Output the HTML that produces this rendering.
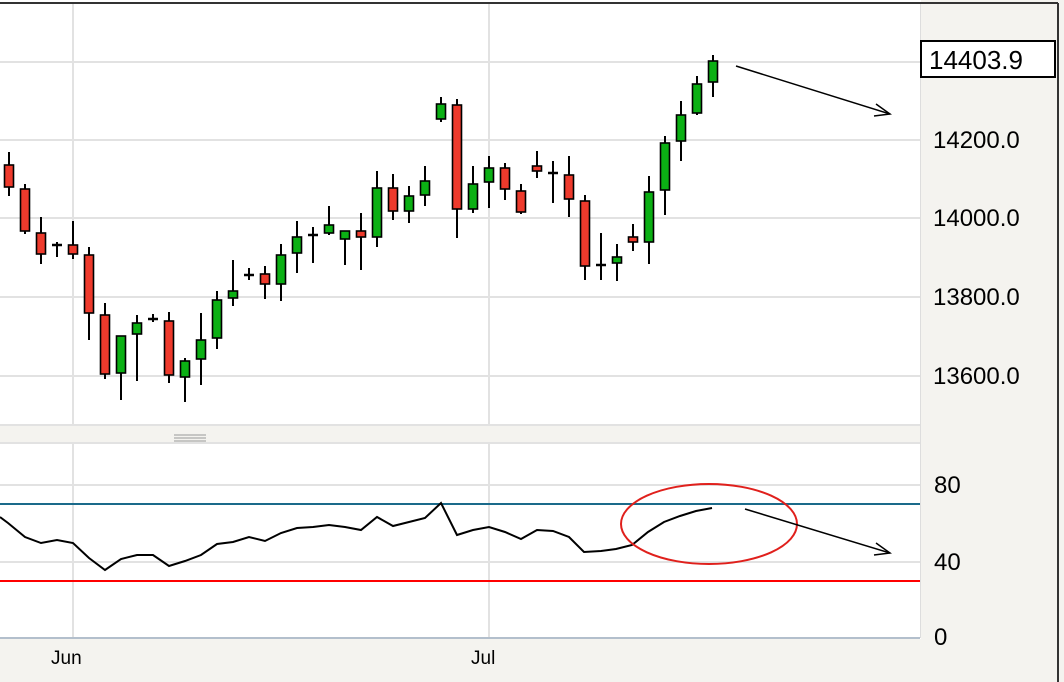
<!DOCTYPE html>
<html><head><meta charset="utf-8"><style>
html,body{margin:0;padding:0;background:#fff}
svg{display:block}
text{font-family:"Liberation Sans",Arial,sans-serif;fill:#000}
</style></head><body>
<svg width="1064" height="682" viewBox="0 0 1064 682" xmlns="http://www.w3.org/2000/svg">
<rect x="0" y="0" width="1064" height="682" fill="#fff"/>
<rect x="921" y="0" width="143" height="682" fill="#f4f3ef"/>
<rect x="0" y="426" width="921" height="17" fill="#f4f3ef"/>
<rect x="0" y="639" width="921" height="43" fill="#f4f3ef"/>
<line x1="0" y1="3" x2="1058" y2="3" stroke="#333" stroke-width="2"/>
<line x1="1058" y1="3" x2="1058" y2="682" stroke="#333" stroke-width="2"/>
<line x1="920.5" y1="4" x2="920.5" y2="638" stroke="#ddd" stroke-width="1"/>
<g stroke="#e2e2e2" stroke-width="2">
<line x1="0" y1="62" x2="920" y2="62"/><line x1="0" y1="140" x2="920" y2="140"/><line x1="0" y1="218" x2="920" y2="218"/><line x1="0" y1="297" x2="920" y2="297"/><line x1="0" y1="376" x2="920" y2="376"/>
<line x1="0" y1="425" x2="920" y2="425"/><line x1="0" y1="443" x2="920" y2="443"/>
<line x1="0" y1="485" x2="920" y2="485"/><line x1="0" y1="562" x2="920" y2="562"/>
<line x1="73" y1="4" x2="73" y2="425"/><line x1="489" y1="4" x2="489" y2="425"/>
<line x1="73" y1="443" x2="73" y2="638"/><line x1="489" y1="443" x2="489" y2="638"/>
</g>
<g stroke="#999" stroke-width="1"><line x1="174" y1="435" x2="206" y2="435"/><line x1="174" y1="438" x2="206" y2="438"/><line x1="174" y1="441" x2="206" y2="441"/></g>
<line x1="0" y1="638" x2="920" y2="638" stroke="#b3bfcc" stroke-width="2"/>
<line x1="0" y1="504" x2="920" y2="504" stroke="#1a6a8a" stroke-width="2"/>
<line x1="0" y1="581" x2="920" y2="581" stroke="#f00" stroke-width="2"/>
<g id="c" stroke="#000" stroke-width="1.6"></g>
<polyline fill="none" stroke="#000" stroke-width="2" points="0,517 8,523 25,537 41,543 57,540 73,543 89,558 105,570 121,559 137,555 153,555 169,566 185,561 201,555 217,544 233,542 249,537 265,541 281,533 297,528 313,527 329,525 345,527 361,530 377,517 393,526 409,522 425,518 441,503 457,535 473,530 489,527 505,532 521,539 537,530 553,531 569,537 584,552 601,551 616,549 632,545 648,532 664,522 680,516 696,511 712,508"/>
<ellipse cx="709" cy="524" rx="88" ry="40" fill="none" stroke="#e0201c" stroke-width="2"/>
<g stroke="#000" stroke-width="1.5" fill="none">
<line x1="736" y1="66" x2="890" y2="114"/><polyline points="876,104 890,114 874,116"/>
<line x1="745" y1="509" x2="890" y2="553"/><polyline points="876,543 890,553 874,555"/>
</g>
<rect x="921" y="41" width="134" height="36" fill="#fff" stroke="#000" stroke-width="2"/>
<text x="929" y="69" font-size="26">14403.9</text>
<g font-size="24">
<text x="933" y="148">14200.0</text>
<text x="933" y="226">14000.0</text>
<text x="933" y="305">13800.0</text>
<text x="933" y="384">13600.0</text>
<text x="934" y="493">80</text>
<text x="934" y="570">40</text>
<text x="934" y="645">0</text>
</g>
<g font-size="19"><text x="51" y="664">Jun</text><text x="471" y="664">Jul</text></g>
</svg>
<script>
var d=[[165,187,152,196,'r'],[189,231,184,234,'r'],[233,254,217,264,'r'],[245,245,242,257,'d'],[245,254,221,259,'r'],[255,313,247,340,'r'],[315,374,303,379,'r'],[336,373,336,400,'g'],[323,334,315,381,'g'],[319,319,314,322,'d'],[321,375,312,383,'r'],[361,377,358,402,'g'],[340,359,313,385,'g'],[300,338,291,349,'g'],[291,298,260,306,'g'],[275,275,268,280,'d'],[274,284,266,299,'r'],[255,284,244,301,'g'],[237,253,221,273,'g'],[235,235,227,263,'d'],[225,233,206,235,'g'],[231,239,231,265,'g'],[231,237,213,270,'r'],[188,237,171,247,'g'],[188,211,174,220,'r'],[196,211,186,223,'g'],[181,195,166,206,'g'],[104,119,97,122,'g'],[105,209,99,238,'r'],[184,209,166,213,'g'],[168,182,156,208,'g'],[168,189,163,200,'r'],[191,212,184,214,'r'],[166,171,151,178,'r'],[173,173,161,203,'d'],[175,199,156,217,'r'],[201,266,195,280,'r'],[265,265,233,280,'d'],[257,263,244,281,'g'],[237,242,224,251,'r'],[192,242,176,264,'g'],[143,190,136,215,'g'],[115,141,101,161,'g'],[84,113,76,115,'g'],[61,82,55,97,'g']];
var g=document.getElementById('c'),s='';
d.forEach(function(c,i){var x=9+16*i;
s+='<line x1="'+x+'" y1="'+c[2]+'" x2="'+x+'" y2="'+c[3]+'" stroke-width="2"/>';
if(c[4]=='d'){s+='<line x1="'+(x-5)+'" y1="'+c[0]+'" x2="'+(x+5)+'" y2="'+c[0]+'" stroke-width="2.5"/>';}
else{s+='<rect x="'+(x-4.5)+'" y="'+c[0]+'" width="9" height="'+Math.max(4,c[1]-c[0])+'" fill="'+(c[4]=='r'?'#ee3a2c':'#0bb014')+'"/>';}
});
g.innerHTML=s;
</script>
</body></html>
